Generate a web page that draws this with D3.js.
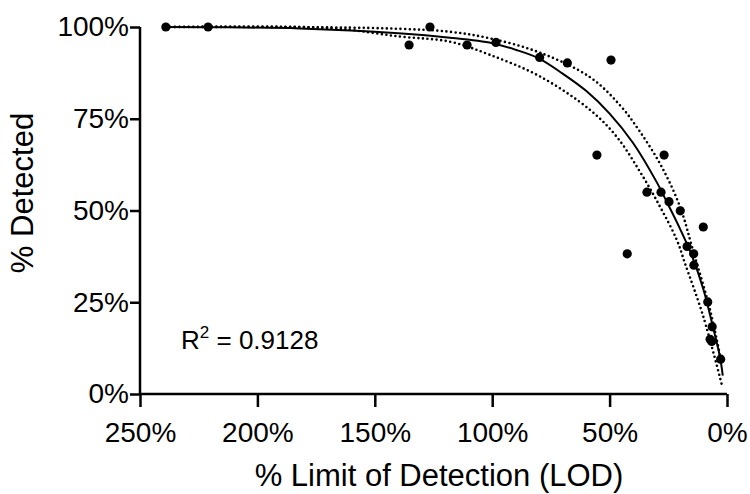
<!DOCTYPE html>
<html>
<head>
<meta charset="utf-8">
<script src="https://cdn.jsdelivr.net/npm/d3@7"></script>
<style>
  body { margin: 0; background: #fff; }
  svg { font-family: "Liberation Sans", Arial, sans-serif; }
  .axis path, .axis line { stroke: #000; stroke-width: 2.5; }
  .axis text { font-size: 28px; fill: #000; }
</style>
</head>
<body>
<svg width="750" height="494"></svg>
<script>
// observed points: % of LOD vs % detected
var lodPct = [239, 221, 135.4, 126.5, 110.7, 98.4, 79.8, 68, 49.4, 55.4, 26.8, 34.1, 28.1,
              24.7, 19.9, 10.1, 42.5, 17, 14.2, 14.1, 8.2, 6.3, 7.2, 6.5, 2.7];
var detectedPct = [100, 100, 95.1, 100, 95.1, 95.8, 91.7, 90.2, 91, 65.1, 65.1, 55, 55,
                   52.4, 49.9, 45.5, 38.2, 40.2, 38.2, 35.1, 25.1, 18.3, 14.9, 14.3, 9.5];

// fitted curve and its confidence band
var fitX = [239, 212, 182, 140, 118, 100, 90, 80, 70, 60, 50, 40, 30, 25, 20, 15, 10, 6, 3, 1.8];
var fitY = [100, 99.9, 99.6, 98.3, 97.1, 95.6, 93.8, 91.4, 87.3, 82.6, 76.4, 68.4, 57.8, 51.5, 45, 37.8, 28.4, 18.3, 10.1, 5];
var upperX = [239, 169, 139.3, 118, 100.9, 79.6, 58.3, 45.6, 37.1, 27.8, 20, 14.5, 7.2, 2.3];
var upperY = [100, 99.9, 99.5, 98.7, 96.9, 93, 86.3, 78.7, 71.5, 61.9, 51, 39.2, 22.9, 8.4];
var lowerX = [239, 169, 139.3, 118, 100.9, 79.6, 58.3, 47, 37.1, 28.5, 21.4, 17.9, 10.1, 2.2];
var lowerY = [100, 99.7, 97.4, 96, 92.4, 86.5, 77.4, 70.1, 60.6, 51, 42, 35.6, 21.1, 2.5];

var xTicks = [250, 200, 150, 100, 50, 0];
var yTicks = [0, 25, 50, 75, 100];

var svg = d3.select("svg"),
    margin = {top: 27, right: 23, bottom: 100, left: 140},
    width = +svg.attr("width") - margin.left - margin.right,
    height = +svg.attr("height") - margin.top - margin.bottom;

var x = d3.scaleLinear().domain([250, 0]).range([0, width]);
var y = d3.scaleLinear().domain([0, 100]).range([height, 0]);

var g = svg.append("g")
    .attr("transform", "translate(" + margin.left + "," + margin.top + ")");

function zipXY(xs, ys) {
  return xs.map(function(v, i) { return [v, ys[i]]; });
}

var line = d3.line()
    .x(function(d) { return x(d[0]); })
    .y(function(d) { return y(d[1]); })
    .curve(d3.curveCatmullRom.alpha(0.5));

// confidence band (dotted)
[zipXY(upperX, upperY), zipXY(lowerX, lowerY)].forEach(function(band) {
  g.append("path")
    .datum(band)
    .attr("fill", "none")
    .attr("stroke", "#000")
    .attr("stroke-width", 2.6)
    .attr("stroke-linecap", "round")
    .attr("stroke-dasharray", "0,4.6")
    .attr("d", line);
});

// fitted curve
g.append("path")
  .datum(zipXY(fitX, fitY))
  .attr("fill", "none")
  .attr("stroke", "#000")
  .attr("stroke-width", 2)
  .attr("d", line);

// points
g.selectAll(".dot")
  .data(zipXY(lodPct, detectedPct))
  .enter().append("circle")
  .attr("class", "dot")
  .attr("cx", function(d) { return x(d[0]); })
  .attr("cy", function(d) { return y(d[1]); })
  .attr("r", 4.6)
  .attr("fill", "#000");

// axes
g.append("g")
  .attr("class", "axis axis--x")
  .attr("transform", "translate(0," + height + ")")
  .call(d3.axisBottom(x).tickValues(xTicks).tickSize(13).tickPadding(15)
        .tickFormat(function(d) { return d + "%"; }))
  .call(function(a) { a.select(".domain").attr("d", "M0,0H" + width); });

g.append("g")
  .attr("class", "axis axis--y")
  .call(d3.axisLeft(y).tickValues(yTicks).tickSize(10).tickPadding(1)
        .tickFormat(function(d) { return d + "%"; }))
  .call(function(a) { a.select(".domain").attr("d", "M0,0V" + height); });

// axis titles
svg.append("text")
  .attr("text-anchor", "middle")
  .attr("x", 439)
  .attr("y", 486)
  .style("font-size", "31px")
  .text("% Limit of Detection (LOD)");

svg.append("text")
  .attr("text-anchor", "middle")
  .attr("transform", "translate(33,193)rotate(-90)")
  .style("font-size", "31px")
  .text("% Detected");

// R squared label
var r2 = svg.append("text")
  .attr("x", 181)
  .attr("y", 349)
  .style("font-size", "26px");
r2.append("tspan").text("R");
r2.append("tspan").attr("dy", -11).style("font-size", "17px").text("2");
r2.append("tspan").attr("dy", 11).text(" = 0.9128");
</script>
</body>
</html>
